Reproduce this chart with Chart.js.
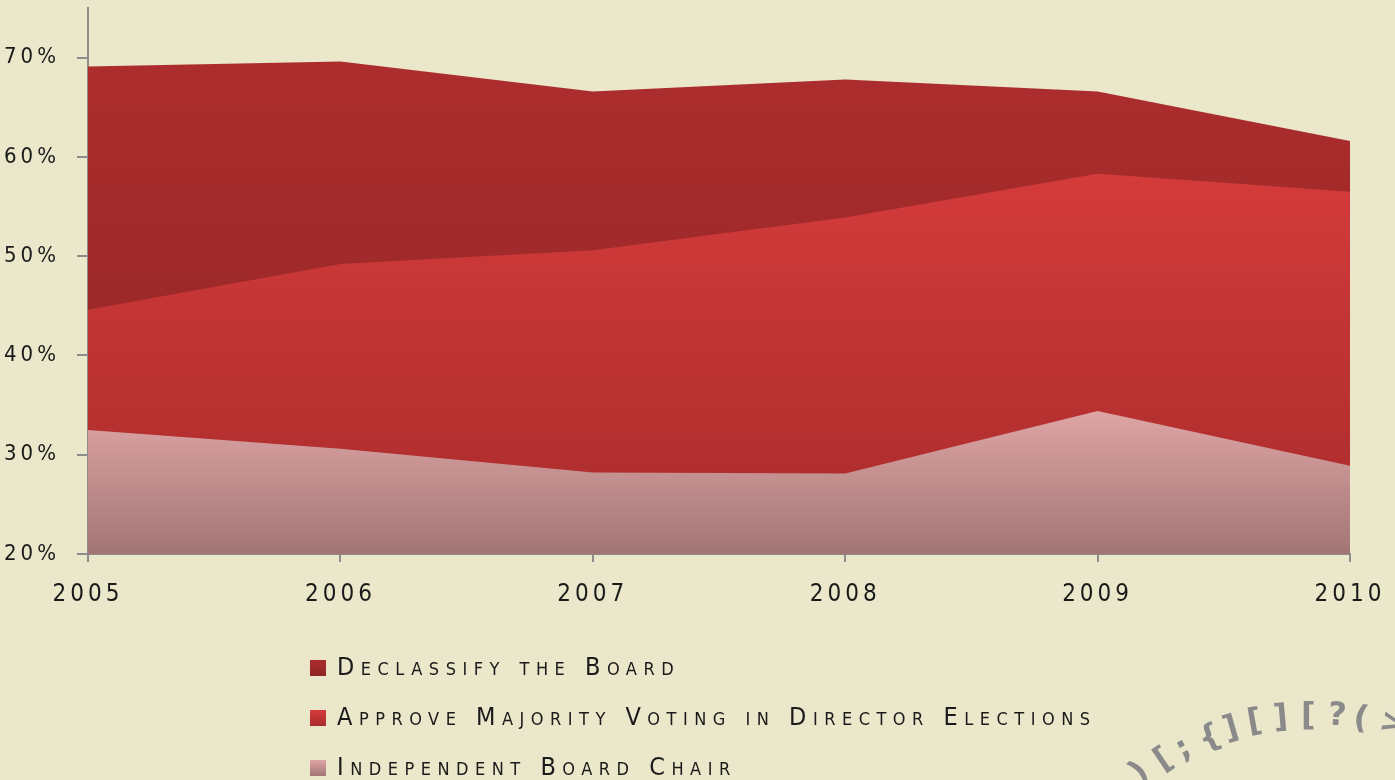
<!DOCTYPE html>
<html>
<head>
<meta charset="utf-8">
<script src="https://cdn.jsdelivr.net/npm/chart.js@4.4.1/dist/chart.umd.min.js"></script>
<style>
  html, body { margin:0; padding:0; background:#EAE7CA; }
  #wrap { position:relative; width:1395px; height:780px; overflow:hidden; background:#EAE7CA; }
  canvas { position:absolute; left:0; top:0; }
  #legend { position:absolute; left:310px; top:653px; font-family:'DejaVu Sans Condensed','Liberation Sans Narrow',sans-serif; }
  .row { height:50px; display:flex; align-items:flex-start; }
  .sw { width:16px; height:16px; margin-top:7px; margin-right:11px; }
  .lab { font-size:25px; line-height:28px; font-variant:small-caps; letter-spacing:6.5px; color:#1a1a1a; white-space:nowrap; }
  .logo { position:absolute; font-family:'DejaVu Sans',sans-serif; font-weight:bold; color:#8a8a8a; font-size:32px; line-height:32px; transform-origin:center center; }
</style>
</head>
<body>
<div id="wrap">
  <canvas id="c" width="1395" height="780"></canvas>
  <div id="legend"></div>
  <div id="logo"></div>
</div>
<script>
// ---- data ----
const years = ['2005', '2006', '2007', '2008', '2009', '2010'];
const declassifyBoard = [69.1, 69.6, 66.6, 67.8, 66.6, 61.6];
const majorityVoting = [44.6, 49.2, 50.6, 53.9, 58.3, 56.5];
const independentChair = [32.5, 30.6, 28.2, 28.1, 34.4, 28.9];
const seriesNames = ['Declassify the Board', 'Approve Majority Voting in Director Elections', 'Independent Board Chair'];
const yTickValues = [20, 30, 40, 50, 60, 70];

const TICK_FONT = "'DejaVu Sans Condensed','Liberation Sans Narrow',sans-serif";

function grad(topColor, bottomColor, values) {
  return function(ctx) {
    const chart = ctx.chart;
    const area = chart.chartArea;
    if (!area) return topColor;
    const top = chart.scales.y.getPixelForValue(Math.max.apply(null, values));
    const g = chart.ctx.createLinearGradient(0, top, 0, area.bottom);
    g.addColorStop(0, topColor);
    g.addColorStop(1, bottomColor);
    return g;
  };
}

const spacingPlugin = {
  id: 'spacing',
  beforeUpdate(chart) { chart.ctx.letterSpacing = '4px'; },
  beforeDraw(chart) { chart.ctx.letterSpacing = '4px'; }
};

const shadowPlugin = {
  id: 'areaShadow',
  beforeDatasetsDraw(chart) {
    const c = chart.ctx;
    c.save();
    c.shadowColor = 'rgba(40,40,40,0.55)';
    c.shadowOffsetX = 2;
    c.shadowOffsetY = 2;
    c.shadowBlur = 2;
  },
  afterDatasetsDraw(chart) { chart.ctx.restore(); }
};

const styles = [
  { top: '#AD2D2D', bottom: '#8E2525', order: 3 },
  { top: '#D43B3B', bottom: '#A82B2B', order: 2 },
  { top: '#DFA5A5', bottom: '#A27575', order: 1 }
];
const seriesData = [declassifyBoard, majorityVoting, independentChair];

const datasets = seriesData.map((d, i) => ({
  label: seriesNames[i],
  data: d,
  order: styles[i].order,
  fill: 'start',
  backgroundColor: grad(styles[i].top, styles[i].bottom, d),
  borderWidth: 0,
  borderColor: 'rgba(0,0,0,0)',
  pointRadius: 0,
  tension: 0,
  clip: { left: 0, top: 0, right: 6, bottom: 6 }
}));

const chart = new Chart(document.getElementById('c'), {
  type: 'line',
  data: { labels: years, datasets: datasets },
  plugins: [spacingPlugin, shadowPlugin],
  options: {
    responsive: false,
    animation: false,
    events: [],
    layout: { padding: { top: 8, right: 45, bottom: 150, left: 0 } },
    plugins: { legend: { display: false }, tooltip: { enabled: false } },
    scales: {
      x: {
        type: 'category',
        offset: false,
        grid: { display: true, drawOnChartArea: false, drawTicks: true, tickLength: 8, color: '#8c8c8c', lineWidth: 2 },
        border: { display: true, color: '#8c8c8c', width: 2 },
        ticks: { font: { family: TICK_FONT, size: 24 }, color: '#1a1a1a', padding: 18, maxRotation: 0, autoSkip: false },
        afterFit(s) { s.height = 76; s.paddingLeft = 0; s.paddingRight = 0; }
      },
      y: {
        min: 20, max: 75,
        afterBuildTicks(s) { s.ticks = yTickValues.map(v => ({ value: v })); },
        grid: { display: true, drawOnChartArea: false, drawTicks: true, tickLength: 11, color: '#8c8c8c', lineWidth: 2 },
        border: { display: true, color: '#8c8c8c', width: 2 },
        ticks: { font: { family: TICK_FONT, size: 22 }, color: '#1a1a1a', padding: 17, callback: v => v + '%' },
        afterFit(s) { s.width = 88; s.paddingTop = 0; s.paddingBottom = 0; }
      }
    }
  }
});

// HTML legend built from the chart's datasets
const legend = document.getElementById('legend');
chart.data.datasets.forEach((ds, i) => {
  const row = document.createElement('div');
  row.className = 'row';
  const sw = document.createElement('div');
  sw.className = 'sw';
  sw.style.background = 'linear-gradient(' + styles[i].top + ',' + styles[i].bottom + ')';
  const lab = document.createElement('div');
  lab.className = 'lab';
  lab.textContent = ds.label;
  row.appendChild(sw); row.appendChild(lab);
  legend.appendChild(row);
});

// decorative logo fragment (bottom right)
const logoChars = [
  [')', 1141, 771, -40], ['[', 1165, 758, -34], [';', 1186, 747, -28],
  ['{', 1208, 736, -22], [']', 1233, 727, -16], ['[', 1257, 720, -10],
  [']', 1283, 716, -5], ['[', 1311, 714, 0], ['?', 1338, 714, 4],
  ['(', 1364, 717, 9], ['>', 1390, 722, 14]
];
const logo = document.getElementById('logo');
logoChars.forEach(c => {
  const s = document.createElement('span');
  s.className = 'logo';
  s.textContent = c[0];
  s.style.left = (c[1] - 10) + 'px';
  s.style.top = (c[2] - 16) + 'px';
  s.style.transform = 'rotate(' + c[3] + 'deg)';
  logo.appendChild(s);
});
</script>
</body>
</html>
